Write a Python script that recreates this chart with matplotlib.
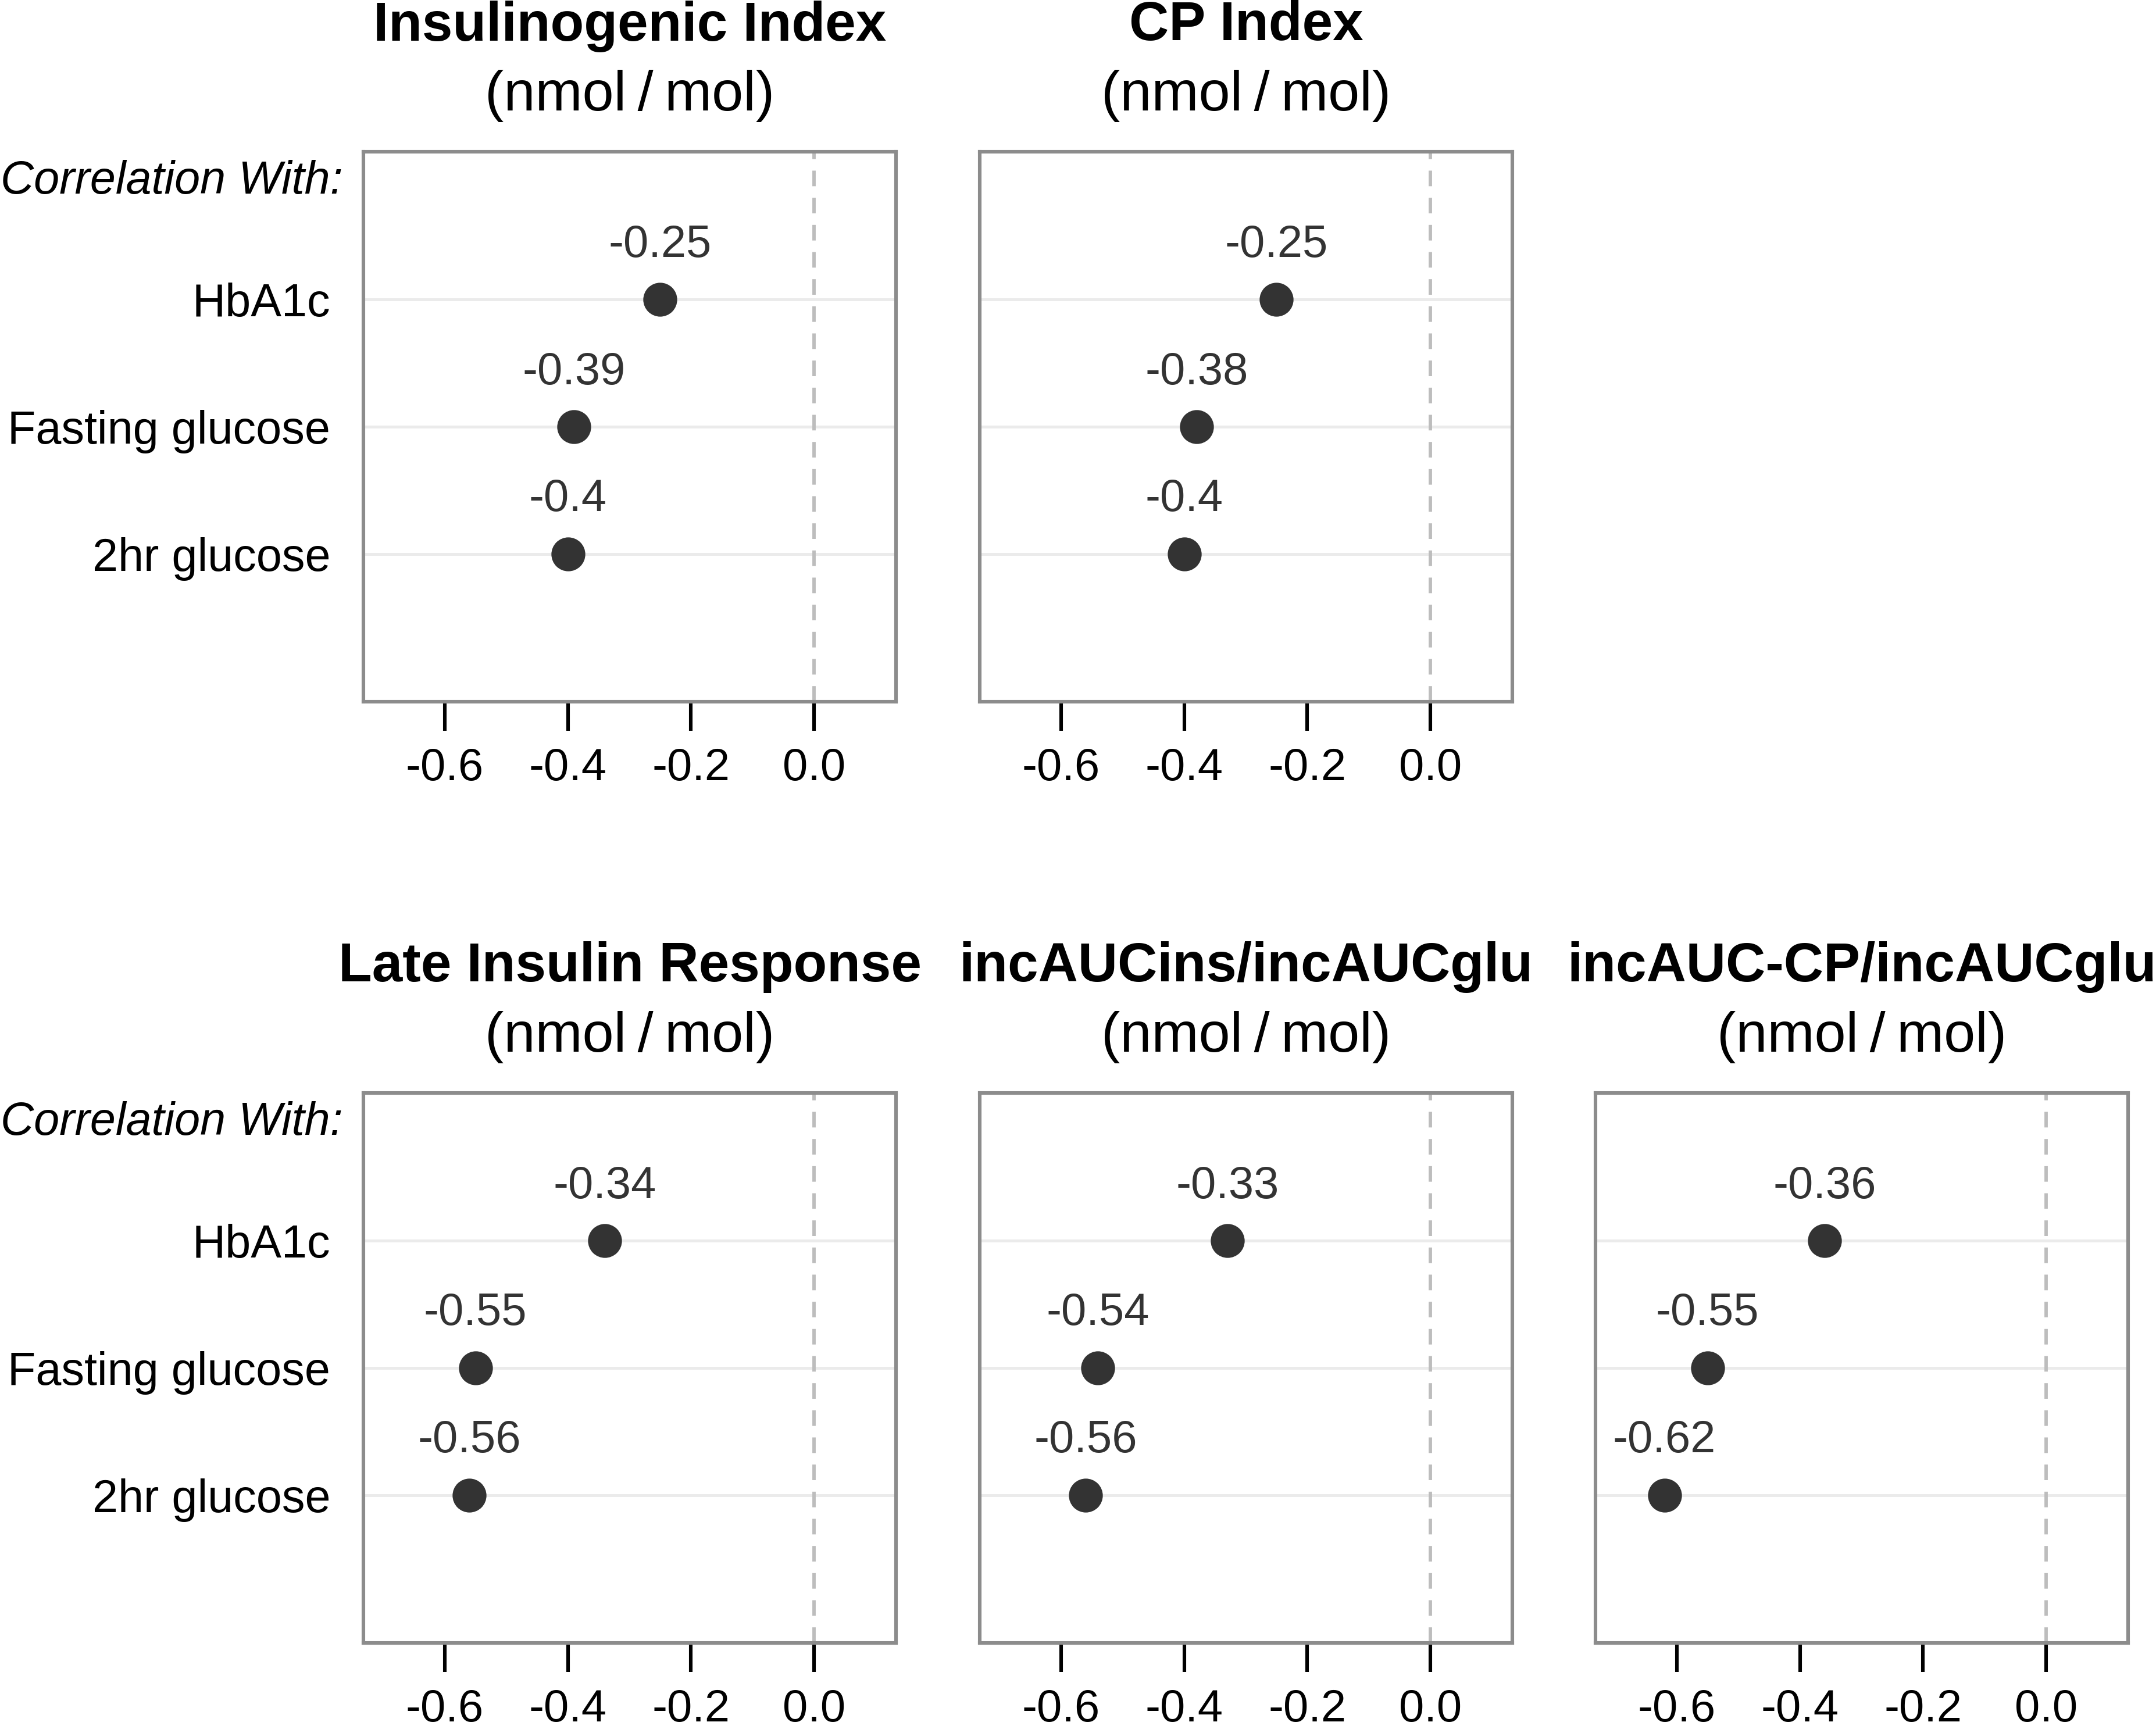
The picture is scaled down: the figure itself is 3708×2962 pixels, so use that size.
import matplotlib
matplotlib.use('Agg')
import matplotlib.pyplot as plt

plt.rcParams['font.family'] = ['Liberation Sans', 'DejaVu Sans']

# data
rows = ['HbA1c', 'Fasting glucose', '2hr glucose']
titles = ['Insulinogenic Index', 'CP Index', 'Late Insulin Response',
          'incAUCins/incAUCglu', 'incAUC-CP/incAUCglu']
insulinogenic = [-0.25, -0.39, -0.4]
cp_index = [-0.25, -0.38, -0.4]
late_insulin = [-0.34, -0.55, -0.56]
incauc_ins = [-0.33, -0.54, -0.56]
incauc_cp = [-0.36, -0.55, -0.62]
panels = [insulinogenic, cp_index, late_insulin, incauc_ins, incauc_cp]
xticks = [-0.6, -0.4, -0.2, 0.0]

W, H = 3708, 2962
DPI = 200
fig = plt.figure(figsize=(W / DPI, H / DPI), dpi=DPI)

# panel boxes in pixels (left, top)
col_left = [625, 1685, 2744]
row_top = [261, 1880]
bw, bh = 916, 946
slots = [(0, 0), (0, 1), (1, 0), (1, 1), (1, 2)]

ypos = [3, 2, 1]

for vals, title, (r, c) in zip(panels, titles, slots):
    left = col_left[c] / W
    bottom = (H - row_top[r] - bh) / H
    ax = fig.add_axes([left, bottom, bw / W, bh / H])

    ax.set_xlim(-0.732, 0.133)
    ax.set_ylim(-0.16, 4.16)

    for y in ypos:
        ax.axhline(y, color='#ebebeb', lw=1.8, zorder=1)
    ax.axvline(0, color='#bdbdbd', lw=2.1, dashes=(4.6, 3.4), zorder=1)

    ax.plot(vals, ypos, 'o', color='#333333', ms=21, mec='none', zorder=3)
    for v, y in zip(vals, ypos):
        ax.annotate(f'{v:g}', xy=(v, y), xytext=(0, 94), textcoords='offset pixels',
                    ha='center', va='center', fontsize=28, color='#333333')

    for s in ax.spines.values():
        s.set_color('#8c8c8c')
        s.set_linewidth(2.2)

    ax.set_xticks(xticks)
    ax.set_xticklabels([f'{t:.1f}' for t in xticks])
    ax.tick_params(axis='x', length=18, width=2.2, color='black', labelsize=28,
                   pad=10, labelcolor='black')

    if c == 0:
        ax.set_yticks(ypos)
        ax.set_yticklabels(rows)
        ax.tick_params(axis='y', length=0, pad=20.5, labelsize=28.5)
        ax.annotate('Correlation With:', xy=(0, 1), xycoords='axes fraction',
                    xytext=(-col_left[0] + 1, -52), textcoords='offset pixels',
                    ha='left', va='center', fontsize=28.5, style='italic')
    else:
        ax.set_yticks([])

    ax.annotate(title, xy=(0.5, 1), xycoords='axes fraction', xytext=(0, 216),
                textcoords='offset pixels', ha='center', va='center',
                fontsize=34, fontweight='bold')
    ax.annotate('(nmol\u2009/\u2009mol)', xy=(0.5, 1), xycoords='axes fraction',
                xytext=(0, 96), textcoords='offset pixels', ha='center',
                va='center', fontsize=35)

fig.savefig('out.png', dpi=DPI)
